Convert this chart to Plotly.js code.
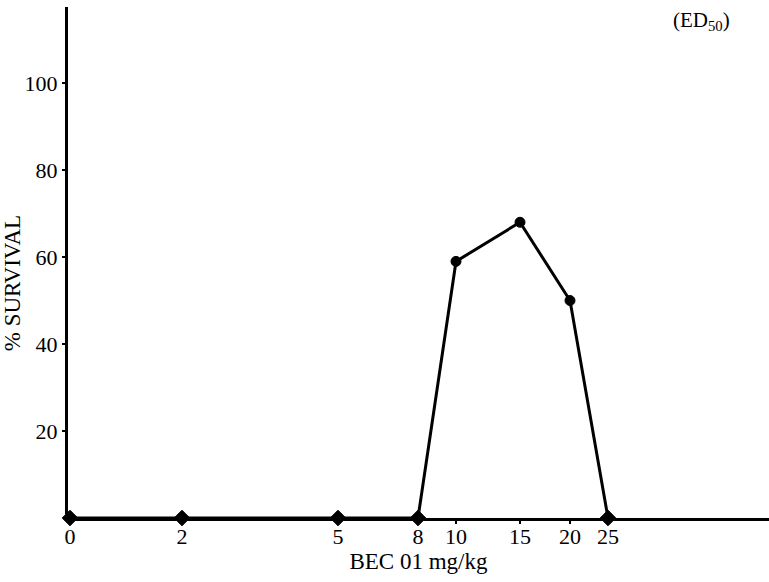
<!DOCTYPE html>
<html>
<head>
<meta charset="utf-8">
<script src="https://cdn.plot.ly/plotly-3.0.1.min.js"></script>
<style>
html,body{margin:0;padding:0;background:#fff;}
#chart{width:769px;height:582px;}
</style>
</head>
<body>
<div id="chart"></div>
<script>
// Doses (mg/kg) and their place along the hand-drawn, non-uniform dose axis
const doseLabels = ["0", "2", "5", "8", "10", "15", "20", "25"];
const doseAxisPos = [0, 11.2, 26.8, 34.8, 38.6, 45.0, 50.0, 53.8];
// % survival at each dose
const survival = [0, 0, 0, 0, 59, 68, 50, 0];
// y tick labels
const yTicks = [20, 40, 60, 80, 100];

const FONT = "Liberation Serif, Times New Roman, serif";

const trace = {
  x: doseAxisPos,
  y: survival,
  type: "scatter",
  mode: "lines+markers",
  cliponaxis: false,
  opacity: 1,
  line: {color: "#000", width: 3},
  marker: {
    color: "#000",
    opacity: 1,
    size: survival.map(v => v === 0 ? 12 : 10),
    symbol: survival.map(v => v === 0 ? "diamond" : "circle"),
    line: {color: "#000", width: 1}
  },
  hoverinfo: "skip"
};

const layout = {
  width: 769, height: 582,
  margin: {l: 68, r: 0, t: 7, b: 64},
  paper_bgcolor: "#fff", plot_bgcolor: "#fff",
  showlegend: false,
  font: {family: FONT, color: "#000", size: 22},
  xaxis: {
    range: [-0.2, 69.9],
    tickvals: doseAxisPos,
    ticktext: doseLabels,
    ticks: "outside", ticklen: 3, tickwidth: 1.5, tickcolor: "#000",
    ticklabelstandoff: -6,
    showline: true, linecolor: "#000", linewidth: 3,
    showgrid: false, zeroline: false,
    tickfont: {family: FONT, size: 22, color: "#000"},
    title: {text: "BEC 01 mg/kg", font: {family: FONT, size: 23, color: "#000"}, standoff: 4}
  },
  yaxis: {
    range: [0, 117.5],
    tickvals: yTicks,
    ticktext: yTicks.map(String),
    ticks: "outside", ticklen: 3, tickwidth: 1.5, tickcolor: "#000",
    showline: true, linecolor: "#000", linewidth: 3,
    showgrid: false, zeroline: false,
    tickfont: {family: FONT, size: 22, color: "#000"}
  },
  annotations: [
    {
      text: "% SURVIVAL", textangle: -90,
      xref: "paper", yref: "paper",
      x: -0.078, y: 0.46, xanchor: "center", yanchor: "middle",
      showarrow: false,
      font: {family: FONT, size: 23, color: "#000"}
    },
    {
      text: "(ED<sub>50</sub>)",
      xref: "paper", yref: "paper",
      x: 0.904, y: 0.972, xanchor: "center", yanchor: "middle",
      showarrow: false,
      font: {family: FONT, size: 21, color: "#000"}
    }
  ]
};

Plotly.newPlot("chart", [trace], layout, {displayModeBar: false, staticPlot: true});
</script>
</body>
</html>
